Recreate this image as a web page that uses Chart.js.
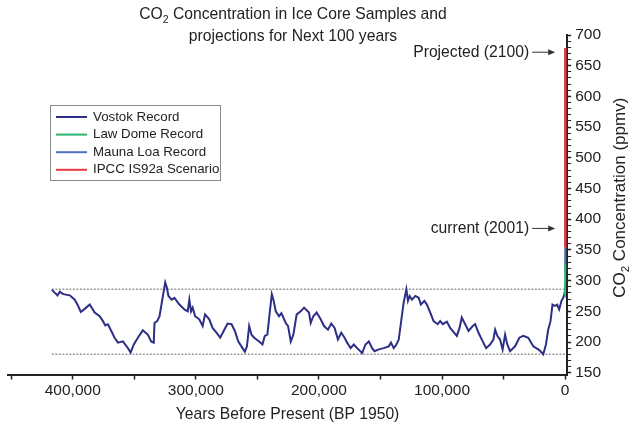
<!DOCTYPE html>
<html><head><meta charset="utf-8">
<script src="https://cdn.jsdelivr.net/npm/chart.js@4.4.1/dist/chart.umd.min.js"></script>
<style>html,body{margin:0;padding:0;background:#fff;}#wrap{position:relative;width:629px;height:426px;}</style>
</head><body><div id="wrap"><canvas id="c" width="629" height="426"></canvas></div>
<script>
const seriesNames = ['Vostok Record', 'Law Dome Record', 'Mauna Loa Record', 'IPCC IS92a Scenario'];
const seriesColors = ['#2d2f87', '#2bb673', '#4f70c2', '#e8383f'];
const vostokYears = [417000,414500,412400,410500,407800,402400,398400,395700,393500,390300,386200,382200,378100,375500,373500,371400,368700,366000,363300,359300,355200,353000,350400,347100,343100,339000,336300,334200,333600,331400,329500,327700,326100,324900,323600,322300,319600,317400,313400,309300,306600,305300,303900,302600,300600,297200,294500,292500,289100,286400,283600,280200,276900,274200,271000,268300,265600,262100,260200,258500,256700,254800,252600,248600,245900,244000,241900,239700,238300,237000,235100,232400,230500,227000,225100,222900,220800,218100,214800,212100,208100,206700,204600,201900,198600,195900,192700,190000,187300,184600,181900,179200,177100,174300,171700,169000,164900,162200,159500,156800,154900,151400,147400,143300,141500,139300,137100,135200,133400,131200,129000,127700,126300,124500,121700,119000,117200,114400,112300,109600,106900,103600,101500,99400,96100,93400,90100,88000,85800,84000,81200,78500,75100,73100,70400,67000,64200,61000,58300,56900,55100,52900,50800,48800,47000,44800,40700,37200,34000,30000,25900,21900,20000,17800,15600,13800,11900,10300,8300,6500,4900,3000,1600,300];
const vostokPpm = [285,280,276,282,278,276,269,259,249,254,261,248,242,234,227,229,218,207,199,201,190,183,196,207,219,212,201,199,231,234,242,264,283,297,289,275,269,272,261,253,250,269,250,256,242,237,226,245,237,223,216,207,220,230,229,218,201,190,184,193,226,212,207,201,196,210,212,253,278,269,250,242,247,231,226,201,212,245,250,256,248,231,242,248,237,226,220,230,223,204,215,207,199,190,196,190,182,196,201,190,185,188,190,193,199,190,196,204,231,264,286,267,275,269,275,272,261,267,261,248,234,229,234,229,233,223,215,210,223,240,229,218,226,229,215,201,190,196,204,220,210,204,188,212,196,185,193,207,210,207,193,188,185,180,196,220,234,261,259,261,253,267,272,280];
const lawDomeYears = [1000, 600, 300, 150, 80, 40, 10, -10, -30];
const lawDomePpm = [279, 281, 279, 285, 292, 305, 312, 318, 328];
const maunaLoaYears = [-8, -25, -40];
const maunaLoaPpm = [315, 330, 354];
const ipccYears = [-40, -51, -100, -150];
const ipccPpm = [354, 370, 520, 679];
const referenceLevels = [286, 180];
const referenceSpan = [417000, 0];
const xTickValues = [450000,400000,350000,300000,250000,200000,150000,100000,50000,0];
const xLabelEvery = 100000;
const yMajorTicks = [150,200,250,300,350,400,450,500,550,600,650,700];
const yMinorStep = 10;
const annotationLabels = ['Projected (2100)', 'current (2001)'];
const annotationValues = [672, 385];
const titleParts = [['CO', '2', ' Concentration in Ice Core Samples and'], ['projections for Next 100 years', '', '']];
const yTitleParts = ['CO', '2', ' Concentration (ppmv)'];
const xTitle = 'Years Before Present (BP 1950)';

const FONT = "'Liberation Sans', Arial, sans-serif";
const TXT = '#222';
const zip = (xs, ys) => xs.map((x, i) => ({x: x, y: ys[i]}));
const yTicksAll = [];
for (let v = yMajorTicks[0]; v <= yMajorTicks[yMajorTicks.length - 1]; v += yMinorStep) yTicksAll.push(v);

const datasets = [
  {label: seriesNames[0], data: zip(vostokYears, vostokPpm), borderColor: seriesColors[0], borderWidth: 2, order: 3, inLegend: true},
  {label: seriesNames[1], data: zip(lawDomeYears, lawDomePpm), borderColor: seriesColors[1], borderWidth: 2, order: 0, inLegend: true},
  {label: seriesNames[2], data: zip(maunaLoaYears, maunaLoaPpm), borderColor: seriesColors[2], borderWidth: 2, order: 1, inLegend: true},
  {label: seriesNames[3], data: zip(ipccYears, ipccPpm), borderColor: seriesColors[3], borderWidth: 2.5, order: 2, inLegend: true}
];
referenceLevels.forEach(lv => datasets.push({label: 'ref', data: referenceSpan.map(x => ({x: x, y: lv})), borderColor: '#9a9a9a', borderWidth: 1.5, borderDash: [2, 1.5], order: 10, inLegend: false}));
datasets.forEach(d => { d.pointRadius = 0; d.fill = false; d.tension = 0; });

function drawSubText(ctx, parts, cx, cy, big, small) {
  ctx.font = big + 'px ' + FONT;
  const w1 = ctx.measureText(parts[0]).width, w3 = ctx.measureText(parts[2]).width;
  ctx.font = small + 'px ' + FONT;
  const w2 = ctx.measureText(parts[1]).width;
  let x = cx - (w1 + w2 + w3) / 2;
  ctx.fillStyle = TXT; ctx.textBaseline = 'middle'; ctx.textAlign = 'left';
  ctx.font = big + 'px ' + FONT; ctx.fillText(parts[0], x, cy); x += w1;
  ctx.font = small + 'px ' + FONT; ctx.fillText(parts[1], x, cy + big * 0.32); x += w2;
  ctx.font = big + 'px ' + FONT; ctx.fillText(parts[2], x, cy);
}

const decorPlugin = {
  id: 'decor',
  afterDraw(chart) {
    const ctx = chart.ctx;
    const xs = chart.scales.x, ys = chart.scales.y;
    ctx.save();
    // title
    drawSubText(ctx, titleParts[0], 293, 15, 15.7, 10.5);
    drawSubText(ctx, titleParts[1], 293, 37, 15.7, 10.5);
    // y axis title, reading upward
    ctx.save();
    ctx.translate(chart.width - 9, ys.getPixelForValue(435));
    ctx.rotate(-Math.PI / 2);
    drawSubText(ctx, yTitleParts, 0, 0, 17, 11.5);
    ctx.restore();
    // legend
    const items = chart.data.datasets.filter(d => d.inLegend);
    const bx = 50, by = 105, bw = 170, bh = 75;
    ctx.fillStyle = '#fff'; ctx.fillRect(bx, by, bw, bh);
    ctx.strokeStyle = '#8a8a8a'; ctx.lineWidth = 1; ctx.strokeRect(bx + 0.5, by + 0.5, bw, bh);
    ctx.font = '13.3px ' + FONT; ctx.textBaseline = 'middle'; ctx.textAlign = 'left';
    items.forEach((d, i) => {
      const y = by + 12 + i * 17.6;
      ctx.strokeStyle = d.borderColor; ctx.lineWidth = 2; ctx.setLineDash([]);
      ctx.beginPath(); ctx.moveTo(bx + 6, y); ctx.lineTo(bx + 37, y); ctx.stroke();
      ctx.fillStyle = TXT; ctx.fillText(d.label, bx + 43, y);
    });
    // annotations
    const xEnd = xs.getPixelForValue(0) - 10;
    ctx.font = '15.7px ' + FONT; ctx.textAlign = 'right'; ctx.textBaseline = 'middle';
    annotationLabels.forEach((t, i) => {
      const y = ys.getPixelForValue(annotationValues[i]);
      ctx.fillStyle = TXT; ctx.fillText(t, xEnd - 26, y);
      ctx.strokeStyle = '#333'; ctx.lineWidth = 1;
      ctx.beginPath(); ctx.moveTo(xEnd - 23, y); ctx.lineTo(xEnd - 5, y); ctx.stroke();
      ctx.fillStyle = '#333';
      ctx.beginPath(); ctx.moveTo(xEnd, y); ctx.lineTo(xEnd - 7, y - 3); ctx.lineTo(xEnd - 7, y + 3); ctx.closePath(); ctx.fill();
    });
    ctx.restore();
  }
};

new Chart(document.getElementById('c'), {
  type: 'line',
  data: {datasets: datasets},
  options: {
    responsive: false, animation: false, devicePixelRatio: 1,
    layout: {padding: {left: 8, top: 35, right: 24, bottom: 2}},
    plugins: {legend: {display: false}, title: {display: false}, tooltip: {enabled: false}},
    scales: {
      x: {
        type: 'linear', reverse: true, min: -1600, max: 452600, bounds: 'data',
        afterBuildTicks: s => { s.ticks = xTickValues.map(v => ({value: v})); },
        ticks: {autoSkip: false, maxRotation: 0, padding: 2, color: TXT, font: {family: FONT, size: 15.5},
          callback: v => (v % xLabelEvery === 0 ? v.toLocaleString('en-US') : '')},
        grid: {drawOnChartArea: false, drawTicks: true, tickLength: 5, tickColor: '#222', tickWidth: 1.5},
        border: {display: true, color: '#222', width: 2},
        title: {display: true, text: xTitle, color: TXT, font: {family: FONT, size: 15.7}, padding: {top: 3, bottom: 0}}
      },
      y: {
        type: 'linear', position: 'right', min: 147, max: 700, bounds: 'data',
        afterBuildTicks: s => { s.ticks = yTicksAll.map(v => ({value: v})); },
        ticks: {autoSkip: false, padding: 4, color: TXT, font: {family: FONT, size: 15.5},
          callback: v => (yMajorTicks.includes(v) ? String(v) : '')},
        grid: {drawOnChartArea: false, drawTicks: true, tickLength: 4, tickColor: '#222',
          tickWidth: c => (c.tick && yMajorTicks.includes(c.tick.value) ? 1.5 : 1)},
        border: {display: true, color: '#222', width: 2},
        title: {display: false}
      }
    }
  },
  plugins: [decorPlugin]
});
</script></body></html>
